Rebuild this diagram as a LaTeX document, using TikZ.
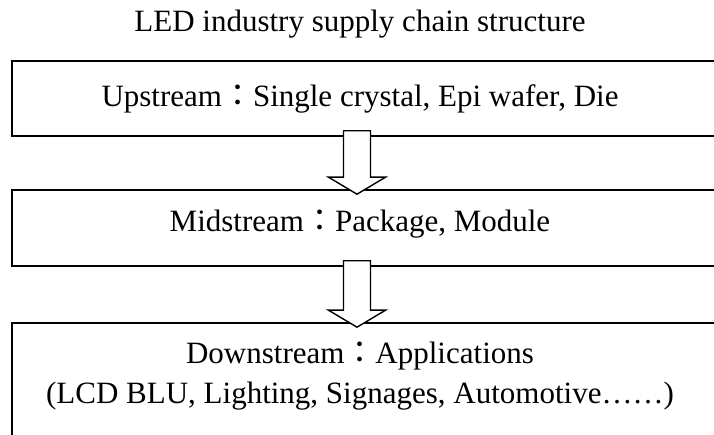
\documentclass[tikz,border=0pt]{standalone}
\usepackage{fontspec}
\setmainfont{Liberation Serif}
\newfontfamily\cjk{Noto Sans CJK TC}
\usetikzlibrary{positioning}

\begin{document}
\begin{tikzpicture}[x=1pt,y=1pt,line width=1.6pt]
  \tikzstyle{box}=[draw,rectangle,minimum width=718pt,inner sep=0pt]
  \tikzstyle{txt}=[font=\fontsize{31}{40}\selectfont,inner sep=0pt,anchor=base]
  \tikzstyle{blk}=[draw,fill=white,line width=1.4pt,line join=miter]

  \useasboundingbox (0,0) rectangle (714,435);
  \clip (0,0) rectangle (714,435);

  \node[txt]                     (title) at (360,403) {LED industry supply chain structure};
  \node[box,minimum height=75pt] (up)    at (371,336.5) {};
  \node[box,minimum height=76pt] (mid)   at (371,207)   {};
  \node[box,minimum height=140pt](down)  at (371,42)    {};

  % hollow arrows between the stages
  \coordinate (ax) at (357,0);
  \foreach \a/\b in {up/mid,mid/down} {
    \coordinate (s) at ([yshift=6pt]\a.south -| ax);
    \coordinate (e) at ([yshift=-5pt]\b.north -| ax);
    \draw[blk] ([xshift=-13.5pt]s) -- ([xshift=-13.5pt,yshift=17pt]e)
      -- ([xshift=-28.5pt,yshift=17pt]e) -- (e)
      -- ([xshift=28.5pt,yshift=17pt]e) -- ([xshift=13.5pt,yshift=17pt]e)
      -- ([xshift=13.5pt]s) -- cycle;
  }

  \node[txt] (upT)  at (360,328) {Upstream{\cjk ：}Single crystal, Epi wafer, Die};
  \node[txt] (midT) at (360,203) {Midstream{\cjk ：}Package, Module};
  \node[txt,align=center] (downT) at (360,31)
    {Downstream{\cjk ：}Applications\\(LCD BLU, Lighting, Signages, Automotive……)};
\end{tikzpicture}
\end{document}
